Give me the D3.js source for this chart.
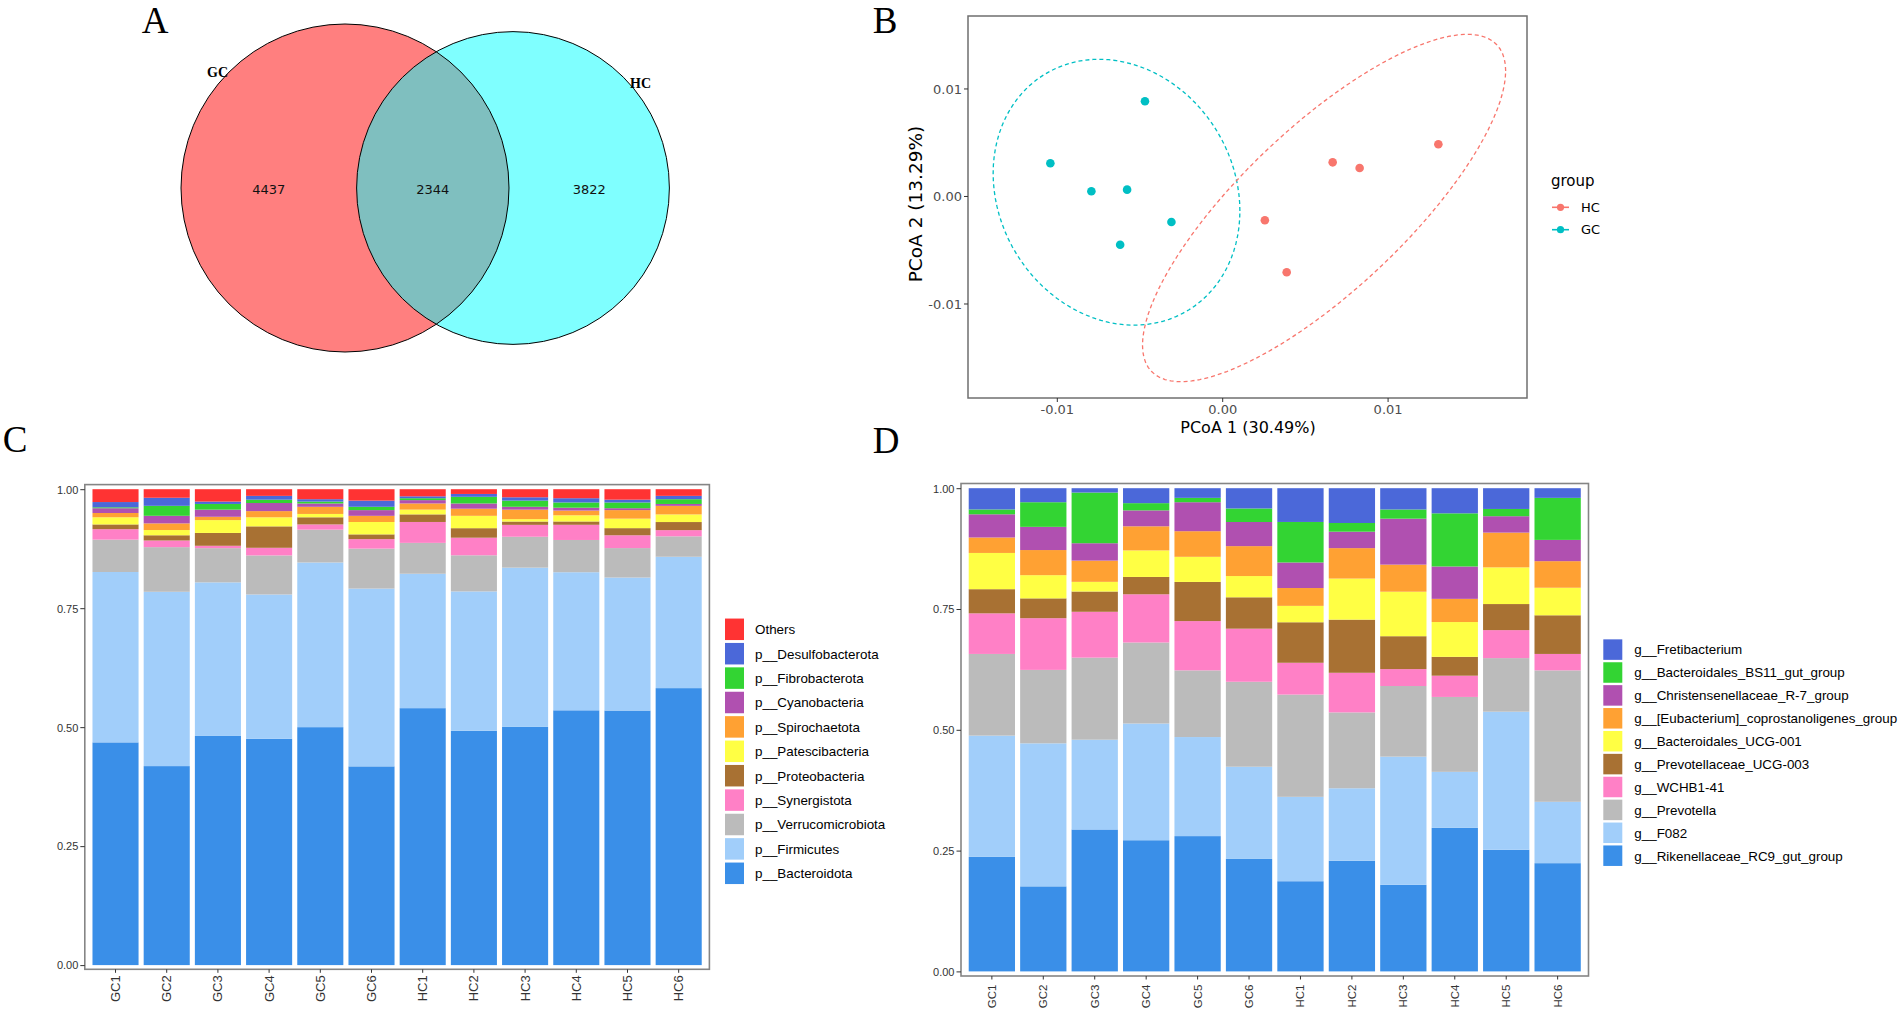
<!DOCTYPE html>
<html>
<head>
<meta charset="utf-8">
<script src="https://cdn.jsdelivr.net/npm/d3@7"></script>
<style>
  body { margin: 0; background: #fff; }
</style>
</head>
<body>
<div id="fig"></div>
<script>
// ---------- data ----------
const vennSets = ["GC", "HC"];
const vennCounts = [4437, 2344, 3822]; // GC only, shared, HC only

const pcoaGC = [[-0.00467, 0.00881], [-0.01039, 0.00304], [-0.00791, 0.00044],
                [-0.00575, 0.00059], [-0.00307, -0.00242], [-0.00617, -0.00453]];
const pcoaHC = [[0.01307, 0.00481], [0.00668, 0.00313], [0.00831, 0.00260],
                [0.00258, -0.00226], [0.00390, -0.00710]];
// ellipse: x = cx + a cos t, y = cy + c cos t + d sin t
const ellipseGC = { cx: -0.00639, cy: 0.00035, a: 0.00746, c: -0.00175, d: 0.01224 };
const ellipseHC = { cx: 0.00616, cy: -0.00112, a: 0.01098, c: 0.01275, d: 0.00992 };
const pcoaTicks = [-0.01, 0, 0.01];

const samples = ["GC1", "GC2", "GC3", "GC4", "GC5", "GC6", "HC1", "HC2", "HC3", "HC4", "HC5", "HC6"];

// phylum level, bottom to top
const phyla = ["p__Bacteroidota", "p__Firmicutes", "p__Verrucomicrobiota", "p__Synergistota",
  "p__Proteobacteria", "p__Patescibacteria", "p__Spirochaetota", "p__Cyanobacteria",
  "p__Fibrobacterota", "p__Desulfobacterota", "Others"];
const bacteroidota     = [0.468, 0.419, 0.482, 0.475, 0.500, 0.418, 0.541, 0.493, 0.501, 0.537, 0.536, 0.582];
const firmicutes       = [0.358, 0.367, 0.323, 0.303, 0.346, 0.374, 0.283, 0.293, 0.335, 0.291, 0.280, 0.276];
const verrucomicrobiota= [0.068, 0.094, 0.072, 0.082, 0.069, 0.084, 0.065, 0.076, 0.065, 0.068, 0.062, 0.043];
const synergistota     = [0.022, 0.014, 0.005, 0.016, 0.011, 0.020, 0.044, 0.037, 0.025, 0.032, 0.027, 0.013];
const proteobacteria   = [0.010, 0.011, 0.027, 0.045, 0.015, 0.010, 0.016, 0.020, 0.007, 0.007, 0.015, 0.017];
const patescibacteria  = [0.015, 0.011, 0.027, 0.019, 0.007, 0.026, 0.010, 0.026, 0.005, 0.013, 0.020, 0.016];
const spirochaetota    = [0.009, 0.014, 0.007, 0.013, 0.015, 0.013, 0.013, 0.015, 0.020, 0.010, 0.018, 0.018];
const cyanobacteria    = [0.010, 0.016, 0.015, 0.017, 0.007, 0.012, 0.007, 0.011, 0.006, 0.006, 0.004, 0.004];
const fibrobacterota   = [0.002, 0.021, 0.012, 0.007, 0.004, 0.007, 0.004, 0.014, 0.013, 0.011, 0.012, 0.010];
const desulfobacterota = [0.011, 0.017, 0.005, 0.008, 0.005, 0.013, 0.004, 0.006, 0.007, 0.009, 0.006, 0.007];
const othersPhylum     = [0.027, 0.018, 0.026, 0.014, 0.021, 0.024, 0.015, 0.010, 0.017, 0.019, 0.022, 0.014];

// genus level, bottom to top
const genera = ["g__Rikenellaceae_RC9_gut_group", "g__F082", "g__Prevotella", "g__WCHB1-41",
  "g__Prevotellaceae_UCG-003", "g__Bacteroidales_UCG-001", "g__[Eubacterium]_coprostanoligenes_group",
  "g__Christensenellaceae_R-7_group", "g__Bacteroidales_BS11_gut_group", "g__Fretibacterium"];
const rikenellaceae   = [0.237, 0.176, 0.294, 0.272, 0.280, 0.233, 0.187, 0.229, 0.179, 0.297, 0.252, 0.224];
const f082            = [0.251, 0.296, 0.186, 0.242, 0.205, 0.191, 0.175, 0.150, 0.265, 0.116, 0.286, 0.127];
const prevotella      = [0.169, 0.152, 0.170, 0.168, 0.138, 0.176, 0.212, 0.157, 0.146, 0.155, 0.111, 0.272];
const wchb141         = [0.084, 0.107, 0.095, 0.100, 0.102, 0.110, 0.066, 0.082, 0.035, 0.044, 0.058, 0.034];
const prevotellaceae  = [0.050, 0.041, 0.042, 0.036, 0.081, 0.065, 0.084, 0.110, 0.068, 0.039, 0.054, 0.080];
const bacteroidalesUCG= [0.075, 0.048, 0.020, 0.055, 0.052, 0.044, 0.034, 0.085, 0.092, 0.072, 0.076, 0.057];
const eubacterium     = [0.032, 0.052, 0.044, 0.050, 0.053, 0.062, 0.037, 0.063, 0.056, 0.048, 0.072, 0.055];
const christensenella = [0.048, 0.048, 0.036, 0.033, 0.060, 0.050, 0.053, 0.034, 0.095, 0.067, 0.034, 0.044];
const bs11            = [0.010, 0.051, 0.105, 0.015, 0.009, 0.028, 0.084, 0.018, 0.019, 0.110, 0.015, 0.087];
const fretibacterium  = [0.044, 0.029, 0.009, 0.031, 0.020, 0.042, 0.070, 0.072, 0.044, 0.052, 0.043, 0.020];

const stackTicks = [0, 0.25, 0.5, 0.75, 1];
const palette = ["#3A8FE8", "#A1CEFA", "#BBBBBB", "#FF80C6", "#A87133", "#FFFF44",
                 "#FFA133", "#B050B0", "#33D433", "#4B68D9", "#FF3333"];

// ---------- page ----------
const W = 1902, H = 1012;
const svg = d3.select("#fig").append("svg")
    .attr("width", W)
    .attr("height", H)
    .style("background", "#fff");

const serif = "'Liberation Serif', 'Times New Roman', serif";
const dejavu = "'DejaVu Sans', sans-serif";
const helv = "'Liberation Sans', Arial, sans-serif";

function panelLetter(txt, x, y) {
    svg.append("text")
        .attr("x", x).attr("y", y)
        .attr("text-anchor", "middle")
        .style("font-family", serif)
        .style("font-size", "37px")
        .text(txt);
}
panelLetter("A", 155, 33);
panelLetter("B", 885, 33);
panelLetter("C", 15, 452);
panelLetter("D", 886, 453);

// ---------- A: venn ----------
const vennTotals = [vennCounts[0] + vennCounts[1], vennCounts[2] + vennCounts[1]];
const rScale = d3.scaleSqrt().domain([0, d3.max(vennTotals)]).range([0, 164]);
const vennCy = 188;
const vennCx = [345, 513];
const vennFill = ["#FF0000", "#00FFFF"];

const venn = svg.append("g");
venn.selectAll("circle.fill")
    .data(vennTotals)
    .enter().append("circle")
    .attr("class", "fill")
    .attr("cx", (d, i) => vennCx[i])
    .attr("cy", vennCy)
    .attr("r", d => rScale(d))
    .attr("fill", (d, i) => vennFill[i])
    .attr("fill-opacity", 0.5);
venn.selectAll("circle.edge")
    .data(vennTotals)
    .enter().append("circle")
    .attr("class", "edge")
    .attr("cx", (d, i) => vennCx[i])
    .attr("cy", vennCy)
    .attr("r", d => rScale(d))
    .attr("fill", "none")
    .attr("stroke", "#000")
    .attr("stroke-width", 1);

const rGC = rScale(vennTotals[0]), rHC = rScale(vennTotals[1]);
const edges = [vennCx[0] - rGC, vennCx[1] - rHC, vennCx[0] + rGC, vennCx[1] + rHC];
venn.selectAll("text.count")
    .data(vennCounts)
    .enter().append("text")
    .attr("class", "count")
    .attr("x", (d, i) => (edges[i] + edges[i + 1]) / 2)
    .attr("y", 194)
    .attr("text-anchor", "middle")
    .style("font-family", dejavu)
    .style("font-size", "13px")
    .attr("fill", "#111")
    .text(d => d);

venn.append("text").attr("x", 207).attr("y", 77)
    .style("font-family", serif).style("font-size", "14px").style("font-weight", "bold")
    .text(vennSets[0]);
venn.append("text").attr("x", 630).attr("y", 88)
    .style("font-family", serif).style("font-size", "14px").style("font-weight", "bold")
    .text(vennSets[1]);

// ---------- B: PCoA ----------
const boxB = { x0: 968, x1: 1527, y0: 16, y1: 398 };
const xB = d3.scaleLinear().domain([-0.01537, 0.01843]).range([boxB.x0, boxB.x1]);
const yB = d3.scaleLinear().domain([-0.01879, 0.01674]).range([boxB.y1, boxB.y0]);
const colHC = "#F8766D", colGC = "#00BFC4";

const gB = svg.append("g");

function ellipsePath(e) {
    const ts = d3.range(0, 101).map(i => i / 100 * 2 * Math.PI);
    return d3.line()
        .x(t => xB(e.cx + e.a * Math.cos(t)))
        .y(t => yB(e.cy + e.c * Math.cos(t) + e.d * Math.sin(t)))(ts);
}
gB.append("path").attr("d", ellipsePath(ellipseGC))
    .attr("fill", "none").attr("stroke", colGC).attr("stroke-width", 1.3)
    .attr("stroke-dasharray", "4,3");
gB.append("path").attr("d", ellipsePath(ellipseHC))
    .attr("fill", "none").attr("stroke", colHC).attr("stroke-width", 1.3)
    .attr("stroke-dasharray", "4,3");

gB.selectAll("circle.gc").data(pcoaGC).enter().append("circle")
    .attr("class", "gc")
    .attr("cx", d => xB(d[0])).attr("cy", d => yB(d[1]))
    .attr("r", 4.3).attr("fill", colGC);
gB.selectAll("circle.hc").data(pcoaHC).enter().append("circle")
    .attr("class", "hc")
    .attr("cx", d => xB(d[0])).attr("cy", d => yB(d[1]))
    .attr("r", 4.3).attr("fill", colHC);

gB.append("rect")
    .attr("x", boxB.x0).attr("y", boxB.y0)
    .attr("width", boxB.x1 - boxB.x0).attr("height", boxB.y1 - boxB.y0)
    .attr("fill", "none").attr("stroke", "#6f6f6f").attr("stroke-width", 1.5);

const fmt2 = d => d.toFixed(2);

const axBx = gB.append("g")
    .attr("transform", `translate(0,${boxB.y1})`)
    .call(d3.axisBottom(xB).tickValues(pcoaTicks).tickFormat(fmt2).tickSize(4).tickPadding(3));
axBx.select(".domain").remove();
axBx.selectAll("line").attr("stroke", "#333");
axBx.selectAll("text")
    .attr("y", 16).attr("dy", null)
    .attr("fill", "#4d4d4d")
    .style("font-family", dejavu).style("font-size", "13px");

const axBy = gB.append("g")
    .attr("transform", `translate(${boxB.x0},0)`)
    .call(d3.axisLeft(yB).tickValues(pcoaTicks).tickFormat(fmt2).tickSize(4).tickPadding(2));
axBy.select(".domain").remove();
axBy.selectAll("line").attr("stroke", "#333");
axBy.selectAll("text")
    .attr("dy", "0.35em")
    .attr("fill", "#4d4d4d")
    .style("font-family", dejavu).style("font-size", "13px");

gB.append("text")
    .attr("x", 1248).attr("y", 433)
    .attr("text-anchor", "middle")
    .style("font-family", dejavu).style("font-size", "16px")
    .text("PCoA 1 (30.49%)");
gB.append("text")
    .attr("transform", "translate(922,204) rotate(-90)")
    .attr("text-anchor", "middle")
    .style("font-family", dejavu).style("font-size", "18.5px")
    .text("PCoA 2 (13.29%)");

// legend
const legB = gB.append("g");
legB.append("text").attr("x", 1551).attr("y", 186)
    .style("font-family", dejavu).style("font-size", "15px")
    .text("group");
const legItems = [["HC", colHC], ["GC", colGC]];
const legRow = legB.selectAll("g.item").data(legItems).enter().append("g")
    .attr("class", "item")
    .attr("transform", (d, i) => `translate(1560.5,${207.3 + i * 22.4})`);
legRow.append("line").attr("x1", -8.5).attr("x2", 8.5)
    .attr("stroke", d => d[1]).attr("stroke-width", 1.6);
legRow.append("circle").attr("r", 3.6).attr("fill", d => d[1]);
legRow.append("text").attr("x", 20.5).attr("dy", "0.36em")
    .style("font-family", dejavu).style("font-size", "13px")
    .text(d => d[0]);

// ---------- C & D: stacked bars ----------
function stackPanel(o) {
    const g = svg.append("g");
    const rows = samples.map((s, i) => {
        const r = { sample: s };
        o.keys.forEach((k, j) => { r[k] = o.values[j][i]; });
        return r;
    });
    const series = d3.stack().keys(o.keys).offset(d3.stackOffsetExpand)(rows);
    const x = d3.scaleBand().domain(samples).range([o.box.x0, o.box.x1])
        .paddingInner(0.1).paddingOuter(0.15);
    const y = d3.scaleLinear().domain([0, 1]).range(o.yRange);
    const color = d3.scaleOrdinal().domain(o.keys).range(palette);

    g.selectAll("g.layer").data(series).enter().append("g")
        .attr("class", "layer")
        .attr("fill", d => color(d.key))
        .selectAll("rect").data(d => d).enter().append("rect")
        .attr("x", d => x(d.data.sample))
        .attr("width", x.bandwidth())
        .attr("y", d => y(d[1]))
        .attr("height", d => y(d[0]) - y(d[1]));

    g.append("rect")
        .attr("x", o.box.x0).attr("y", o.box.y0)
        .attr("width", o.box.x1 - o.box.x0).attr("height", o.box.y1 - o.box.y0)
        .attr("fill", "none").attr("stroke", "#858585").attr("stroke-width", 1.6);

    const ay = g.append("g")
        .attr("transform", `translate(${o.box.x0},0)`)
        .call(d3.axisLeft(y).tickValues(stackTicks).tickFormat(fmt2).tickSize(4.5).tickPadding(2));
    ay.select(".domain").remove();
    ay.selectAll("line").attr("stroke", "#333");
    ay.selectAll("text")
        .attr("dy", "0.35em").attr("fill", "#333")
        .style("font-family", helv).style("font-size", "11px");

    const ax = g.append("g")
        .attr("transform", `translate(0,${o.box.y1})`)
        .call(d3.axisBottom(x).tickSize(3.5));
    ax.select(".domain").remove();
    ax.selectAll("line").attr("stroke", "#333");
    ax.selectAll("text")
        .attr("y", 0).attr("dy", null)
        .attr("transform", `translate(0,${o.labelGap}) rotate(-90)`)
        .attr("text-anchor", "end")
        .attr("dominant-baseline", "central")
        .attr("fill", "#333")
        .style("font-family", helv).style("font-size", o.labelSize);

    const legendKeys = o.keys.slice().reverse();
    const leg = g.selectAll("g.leg").data(legendKeys).enter().append("g")
        .attr("class", "leg")
        .attr("transform", (d, i) => `translate(${o.legX},${o.legY + i * o.legStep})`);
    leg.append("rect")
        .attr("x", 0).attr("y", -o.keyH / 2)
        .attr("width", 19).attr("height", o.keyH)
        .attr("fill", d => color(d));
    leg.append("text")
        .attr("x", o.legTextX).attr("dy", "0.36em")
        .style("font-family", helv).style("font-size", "13.4px")
        .text(d => d);
}

stackPanel({
    keys: phyla,
    values: [bacteroidota, firmicutes, verrucomicrobiota, synergistota, proteobacteria,
             patescibacteria, spirochaetota, cyanobacteria, fibrobacterota, desulfobacterota, othersPhylum],
    box: { x0: 84.8, x1: 709.4, y0: 484.6, y1: 969.3 },
    yRange: [965.1, 489.2],
    labelGap: 6,
    labelSize: "13px",
    legX: 725, legY: 629.3, legStep: 24.4, keyH: 21.5, legTextX: 30
});

stackPanel({
    keys: genera,
    values: [rikenellaceae, f082, prevotella, wchb141, prevotellaceae, bacteroidalesUCG,
             eubacterium, christensenella, bs11, fretibacterium],
    box: { x0: 961, x1: 1588.5, y0: 483.5, y1: 976 },
    yRange: [971.4, 488.2],
    labelGap: 8.5,
    labelSize: "11.5px",
    legX: 1603.3, legY: 649.6, legStep: 22.9, keyH: 20.5, legTextX: 31
});
</script>
</body>
</html>
